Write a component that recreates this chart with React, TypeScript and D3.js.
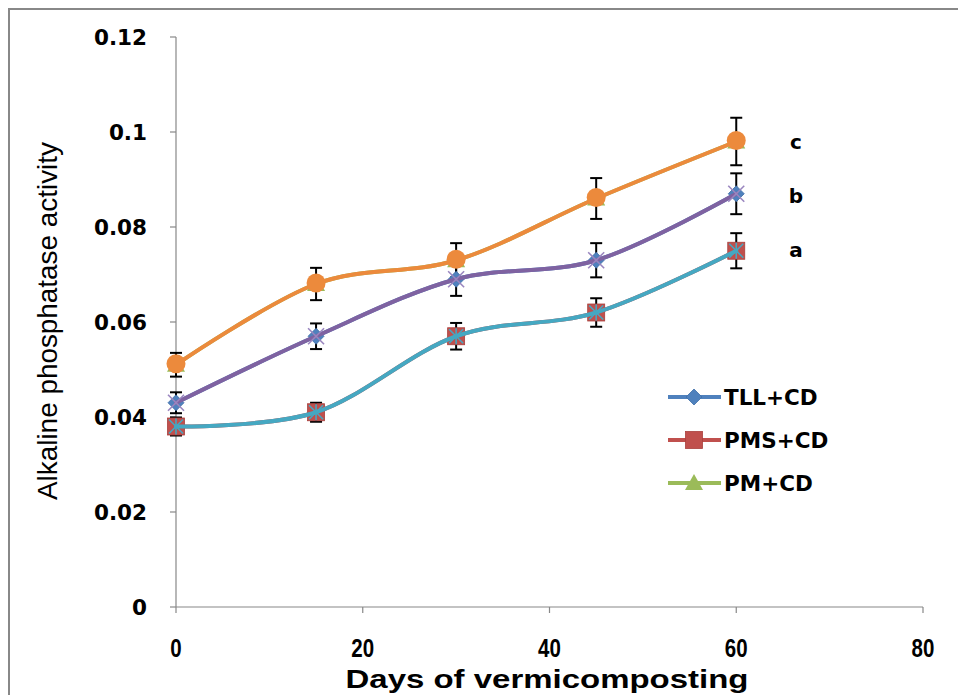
import React from "react";
import * as d3 from "d3";

const days = [0, 15, 30, 45, 60];
const seriesNames = ["TLL+CD", "PMS+CD", "PM+CD"];
const tllValues = [0.043, 0.057, 0.069, 0.073, 0.087];
const tllErrors = [0.0022, 0.0027, 0.0035, 0.0036, 0.0043];
const pmsValues = [0.038, 0.041, 0.057, 0.062, 0.075];
const pmsErrors = [0.0019, 0.002, 0.0028, 0.003, 0.0037];
const pmValues = [0.051, 0.068, 0.073, 0.086, 0.098];
const pmErrors = [0.0025, 0.0034, 0.0036, 0.0043, 0.005];
const groupLetters = ["a", "b", "c"];
const yTicks = [0, 0.02, 0.04, 0.06, 0.08, 0.1, 0.12];
const xTicks = [0, 20, 40, 60, 80];

const W = 958;
const H = 695;
const x = d3.scaleLinear().domain([0, 80]).range([176, 923]);
const y = d3.scaleLinear().domain([0, 0.12]).range([607, 37]);

const line = d3
  .line<number>()
  .x((_, i) => x(days[i]))
  .y((v) => y(v))
  .curve(d3.curveCardinal.tension(0));

const C = {
  blue: "#4F81BD",
  red: "#C0504D",
  green: "#9BBB59",
  purple: "#7F62A1",
  teal: "#45A8C2",
  orange: "#EC8A3C",
  axis: "#888888",
};

function ErrorBars({ values, errors }: { values: number[]; errors: number[] }) {
  return (
    <g stroke="#000" strokeWidth={2}>
      {values.map((v, i) => {
        const cx = x(days[i]);
        const t = y(v + errors[i]);
        const b = y(v - errors[i]);
        return (
          <g key={i}>
            <line x1={cx} x2={cx} y1={t} y2={b} />
            <line x1={cx - 6} x2={cx + 6} y1={t} y2={t} />
            <line x1={cx - 6} x2={cx + 6} y1={b} y2={b} />
          </g>
        );
      })}
    </g>
  );
}

const diamond = (cx: number, cy: number) =>
  <path d={`M${cx},${cy - 8}L${cx + 8},${cy}L${cx},${cy + 8}L${cx - 8},${cy}Z`} fill={C.blue} stroke="#3F6FA8" strokeWidth={0.8} />;
const square = (cx: number, cy: number) =>
  <rect x={cx - 8.5} y={cy - 8.5} width={17} height={17} fill={C.red} stroke="#A8403D" strokeWidth={0.8} />;
const triangle = (cx: number, cy: number) =>
  <path d={`M${cx},${cy - 9}L${cx + 9},${cy + 7}L${cx - 9},${cy + 7}Z`} fill={C.green} />;

export default function App() {
  return (
    <svg width={W} height={H} style={{ position: "absolute", left: 0, top: 0, background: "#fff" }}>
      <rect x={0} y={0} width={W} height={H} fill="#fff" />
      {/* outer frame */}
      <line x1={9} x2={W + 5} y1={9} y2={9} stroke={C.axis} strokeWidth={2} />
      <line x1={9} x2={9} y1={8} y2={H + 5} stroke={C.axis} strokeWidth={2} />

      {/* axes */}
      <g stroke={C.axis} strokeWidth={1.2}>
        <line x1={x(0)} x2={x(0)} y1={y(0.12)} y2={y(0)} />
        <line x1={x(0)} x2={x(80)} y1={y(0)} y2={y(0)} />
        {yTicks.map((t) => (
          <line key={t} x1={x(0) - 6} x2={x(0)} y1={y(t)} y2={y(t)} />
        ))}
        {xTicks.map((t) => (
          <line key={t} x1={x(t)} x2={x(t)} y1={y(0)} y2={y(0) + 6} />
        ))}
      </g>
      <g fontFamily="DejaVu Sans" fontWeight="bold" fontSize={21.5} fill="#000" textAnchor="end">
        {yTicks.map((t) => (
          <text key={t} x={147} y={y(t)} dy="0.36em">{String(t)}</text>
        ))}
      </g>
      <g fontFamily="Liberation Sans" fontWeight="bold" fontSize={25} fill="#000" textAnchor="middle">
        {xTicks.map((t) => (
          <text key={t} x={x(t)} y={648} dy="0.36em" transform={`translate(${x(t) * 0.18},0) scale(0.82,1)`}>{String(t)}</text>
        ))}
      </g>
      <text x={547} y={688} fontFamily="Liberation Sans" fontWeight="bold" fontSize={26} textAnchor="middle" textLength={403} lengthAdjust="spacingAndGlyphs">Days of vermicomposting</text>
      <text transform="translate(57,321) rotate(-90)" fontFamily="Liberation Sans" fontSize={28} textAnchor="middle" textLength={358} lengthAdjust="spacingAndGlyphs">Alkaline phosphatase activity</text>

      {/* error bars */}
      <ErrorBars values={tllValues} errors={tllErrors} />
      <ErrorBars values={pmsValues} errors={pmsErrors} />
      <ErrorBars values={pmValues} errors={pmErrors} />

      {/* base series */}
      <path d={line(tllValues) || ""} fill="none" stroke={C.blue} strokeWidth={4} />
      {tllValues.map((v, i) => <g key={"d" + i}>{diamond(x(days[i]), y(v))}</g>)}
      <path d={line(pmsValues) || ""} fill="none" stroke={C.red} strokeWidth={4} />
      {pmsValues.map((v, i) => <g key={"s" + i}>{square(x(days[i]), y(v))}</g>)}
      <path d={line(pmValues) || ""} fill="none" stroke={C.green} strokeWidth={4} />
      {pmValues.map((v, i) => <g key={"t" + i}>{triangle(x(days[i]), y(v))}</g>)}

      {/* overlay series */}
      <path d={line(tllValues) || ""} fill="none" stroke={C.purple} strokeWidth={4} strokeLinecap="round" />
      {tllValues.map((v, i) => {
        const cx = x(days[i]), cy = y(v);
        return (
          <g key={"x" + i} stroke="#9A86BF" strokeWidth={1.6}>
            <line x1={cx - 8} x2={cx + 8} y1={cy - 8} y2={cy + 8} />
            <line x1={cx - 8} x2={cx + 8} y1={cy + 8} y2={cy - 8} />
          </g>
        );
      })}
      <path d={line(pmsValues) || ""} fill="none" stroke={C.teal} strokeWidth={4} strokeLinecap="round" />
      {pmsValues.map((v, i) => {
        const cx = x(days[i]), cy = y(v);
        return (
          <g key={"a" + i} stroke={C.teal} strokeWidth={1.6}>
            <line x1={cx - 7} x2={cx + 7} y1={cy - 7} y2={cy + 7} />
            <line x1={cx - 7} x2={cx + 7} y1={cy + 7} y2={cy - 7} />
            <line x1={cx} x2={cx} y1={cy - 8} y2={cy + 8} />
          </g>
        );
      })}
      <path d={line(pmValues) || ""} fill="none" stroke={C.orange} strokeWidth={4} strokeLinecap="round" />
      {pmValues.map((v, i) => (
        <circle key={"c" + i} cx={x(days[i])} cy={y(v) - 1} r={9.5} fill={C.orange} />
      ))}

      {/* significance letters */}
      <g fontFamily="DejaVu Sans" fontWeight="bold" fontSize={20} textAnchor="middle">
        <text x={796} y={y(pmsValues[4])} dy="0.3em">{groupLetters[0]}</text>
        <text x={796} y={y(tllValues[4]) + 3} dy="0.3em">{groupLetters[1]}</text>
        <text x={796} y={y(pmValues[4]) + 1} dy="0.3em">{groupLetters[2]}</text>
      </g>

      {/* legend */}
      <g fontFamily="DejaVu Sans" fontWeight="bold" fontSize={21.5}>
        {seriesNames.map((name, i) => {
          const ly = 397 + i * 43;
          const col = [C.blue, C.red, C.green][i];
          const mark = [diamond, square, triangle][i];
          return (
            <g key={name}>
              <line x1={668} x2={721} y1={ly} y2={ly} stroke={col} strokeWidth={4} />
              {mark(694, ly)}
              <text x={724} y={ly} dy="0.36em">{name}</text>
            </g>
          );
        })}
      </g>
    </svg>
  );
}
